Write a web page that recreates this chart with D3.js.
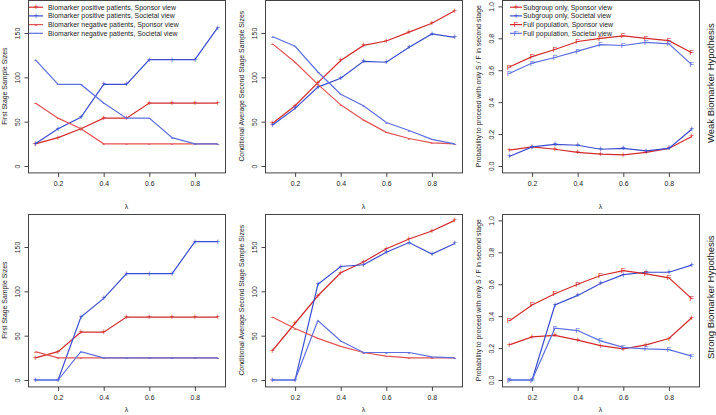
<!DOCTYPE html>
<html><head><meta charset="utf-8">
<script src="https://cdn.jsdelivr.net/npm/d3@7"></script>
<style>
body{margin:0;background:#fff;}
svg{display:block;font-family:"Liberation Sans",Arial,sans-serif;}
</style></head>
<body>
<svg id="c" width="716" height="415"></svg>
<script>
const lambda = [0.1,0.2,0.3,0.4,0.5,0.6,0.7,0.8,0.9];
const xTicks = [0.2,0.4,0.6,0.8];
const sizeTicks = [0,50,100,150];
const probTicks = [0,0.2,0.4,0.6,0.8,1.0];

// Weak biomarker hypothesis
const weakFirstPosSponsor  = [25,32,42,54,54,71,71,71,71];
const weakFirstPosSocietal = [25,42,55,92,92,120,120,120,156];
const weakFirstNegSponsor  = [71,54,42,25,25,25,25,25,25];
const weakFirstNegSocietal = [120,92,92,71,54,54,32,25,25];

const weakSecondPosSponsor  = [48,68,94,119,136,141,151,161,175];
const weakSecondPosSocietal = [46,65,89,99,118,117,134,149,145];
const weakSecondNegSponsor  = [138,117,92,69,52,38,31,26,25];
const weakSecondNegSocietal = [146,135,106,81,68,49,40,30,25];

const weakProbSubSponsor   = [0.10,0.12,0.105,0.085,0.075,0.07,0.085,0.11,0.185];
const weakProbSubSocietal  = [0.06,0.12,0.135,0.13,0.105,0.11,0.095,0.11,0.23];
const weakProbFullSponsor  = [0.62,0.685,0.73,0.78,0.80,0.815,0.80,0.785,0.71];
const weakProbFullSocietal = [0.58,0.645,0.68,0.72,0.76,0.755,0.775,0.765,0.635];

// Strong biomarker hypothesis
const strongFirstPosSponsor  = [25,32,54,54,71,71,71,71,71];
const strongFirstPosSocietal = [0,0,71,92,120,120,120,156,156];
const strongFirstNegSponsor  = [32,25,25,25,25,25,25,25,25];
const strongFirstNegSocietal = [0,0,32,25,25,25,25,25,25];

const strongSecondPosSponsor  = [33,64,95,121,133,148,159,168,180];
const strongSecondPosSocietal = [0,0,108,128,130,144,155,142,154];
const strongSecondNegSponsor  = [71,58,47,38,31,27,25,25,25];
const strongSecondNegSocietal = [0,0,67,44,31,31,31,26,25];

const strongProbSubSponsor   = [0.22,0.27,0.28,0.25,0.215,0.195,0.22,0.26,0.39];
const strongProbSubSocietal  = [0,0,0.47,0.53,0.605,0.66,0.675,0.675,0.72];
const strongProbFullSponsor  = [0.37,0.47,0.54,0.60,0.655,0.685,0.665,0.64,0.51];
const strongProbFullSocietal = [0,0,0.325,0.31,0.245,0.205,0.195,0.19,0.15];

const legend1Labels = ["Biomarker positive patients, Sponsor view","Biomarker positive patients, Societal view",
  "Biomarker negative patients, Sponsor view","Biomarker negative patients, Societal view"];
const legend3Labels = ["Subgroup only, Sponsor view","Subgroup only, Societal view",
  "Full population, Sponsor view","Full population, Societal view"];
const rowLabels = ["Weak Biomarker Hypothesis","Strong Biomarker Hypothesis"];
const yTitles = ["First Stage Sample Sizes","Conditional Average Second Stage Sample Sizes",
  "Probability to proceed with only S / F in second stage"];

const RED="#d22b2b", BLUE="#3a4ccf", RED2="#e25353", BLUE2="#5d6fe0";

const svg = d3.select("#c");
const colX=[28,265,502], W=197, rowY=[0,214], H=172.4;
const FS=6.9;

function panel(col,row,series,maxY,ticks,fmt,title,legend){
  const x0=colX[col], y0=rowY[row];
  const x=d3.scaleLinear().domain([0.1-0.032,0.9+0.032]).range([x0,x0+W]);
  const y=d3.scaleLinear().domain([-0.04*maxY,1.04*maxY]).range([y0+H,y0]);
  const g=svg.append("g");
  series.forEach(s=>{
    const line=d3.line().x((d,i)=>x(lambda[i])).y(d=>y(d));
    g.append("path").attr("d",line(s.values)).attr("fill","none")
      .attr("stroke",s.color).attr("stroke-width",1.2);
    g.selectAll(null).data(s.values).enter().append("text")
      .attr("x",(d,i)=>x(lambda[i])).attr("y",d=>y(d))
      .attr("text-anchor","middle").attr("dominant-baseline","central")
      .attr("font-size",s.sym==="F"?8:(s.sym==="-"?9:8.5)).attr("fill",s.color)
      .text(s.sym);
  });
  g.append("rect").attr("x",x0+0.5).attr("y",y0+0.5).attr("width",W).attr("height",H)
    .attr("fill","none").attr("stroke","#444").attr("stroke-width",1);
  const ax=g.append("g").attr("transform",`translate(0,${y0+H+0.5})`)
    .call(d3.axisBottom(x).tickValues(xTicks).tickSize(4).tickPadding(4).tickFormat(d3.format(".1f")));
  ax.select(".domain").remove();
  ax.selectAll("line").attr("stroke","#444");
  ax.selectAll("text").attr("font-size",FS).attr("fill","#222").attr("font-family","Liberation Sans, Arial, sans-serif");
  const ay=g.append("g").attr("transform",`translate(${x0+0.5},0)`)
    .call(d3.axisLeft(y).tickValues(ticks).tickSize(4).tickFormat(fmt));
  ay.select(".domain").remove();
  ay.selectAll("line").attr("stroke","#444");
  ay.selectAll("text").attr("font-size",FS).attr("fill","#222")
    .attr("font-family","Liberation Sans, Arial, sans-serif")
    .attr("text-anchor","middle").attr("dominant-baseline","central")
    .attr("x",0).attr("dy",null)
    .attr("transform","translate(-11,0) rotate(-90)");
  g.append("text").attr("x",x0+W/2).attr("y",Math.min(y0+H+34,409)).attr("text-anchor","middle")
    .attr("dominant-baseline","central").attr("font-size",7).attr("fill","#222").text("λ");
  g.append("text").attr("transform",`translate(${x0-24},${y0+H/2}) rotate(-90)`)
    .attr("text-anchor","middle").attr("dominant-baseline","central")
    .attr("font-size",FS).attr("fill","#222").text(title);
  if(legend){
    const lg=g.append("g");
    legend.labels.forEach((lab,i)=>{
      const yy=y0+7.2+i*8.7;
      const s=series[legend.order[i]];
      lg.append("line").attr("x1",x0+legend.lx).attr("x2",x0+legend.lx+legend.lw)
        .attr("y1",yy).attr("y2",yy).attr("stroke",s.color).attr("stroke-width",1.2);
      lg.append("text").attr("x",x0+legend.lx+legend.lw/2).attr("y",yy)
        .attr("text-anchor","middle").attr("dominant-baseline","central")
        .attr("font-size",s.sym==="F"?8:(s.sym==="-"?9:8.5)).attr("fill",s.color).text(s.sym);
      lg.append("text").attr("x",x0+legend.tx).attr("y",yy)
        .attr("dominant-baseline","central").attr("font-size",FS).attr("fill","#222").text(lab);
    });
  }
}

const sizeFmt=d3.format("d"), probFmt=d3.format(".1f");
function sizeSeries(ps,pc,ns,nc){
  return [{values:ps,color:RED,sym:"+"},{values:pc,color:BLUE,sym:"+"},
          {values:ns,color:RED2,sym:"-"},{values:nc,color:BLUE2,sym:"-"}];
}
function probSeries(ss,sc,fs,fc){
  return [{values:ss,color:RED,sym:"+"},{values:sc,color:BLUE,sym:"+"},
          {values:fs,color:RED,sym:"F"},{values:fc,color:BLUE2,sym:"F"}];
}
const leg1={labels:legend1Labels,order:[0,1,2,3],lx:1,lw:14,tx:20};
const leg3={labels:legend3Labels,order:[0,1,2,3],lx:8,lw:12,tx:21};

panel(0,0,sizeSeries(weakFirstPosSponsor,weakFirstPosSocietal,weakFirstNegSponsor,weakFirstNegSocietal),180,sizeTicks,sizeFmt,yTitles[0],leg1);
panel(1,0,sizeSeries(weakSecondPosSponsor,weakSecondPosSocietal,weakSecondNegSponsor,weakSecondNegSocietal),180,sizeTicks,sizeFmt,yTitles[1],null);
panel(2,0,probSeries(weakProbSubSponsor,weakProbSubSocietal,weakProbFullSponsor,weakProbFullSocietal),1,probTicks,probFmt,yTitles[2],leg3);
panel(0,1,sizeSeries(strongFirstPosSponsor,strongFirstPosSocietal,strongFirstNegSponsor,strongFirstNegSocietal),180,sizeTicks,sizeFmt,yTitles[0],null);
panel(1,1,sizeSeries(strongSecondPosSponsor,strongSecondPosSocietal,strongSecondNegSponsor,strongSecondNegSocietal),180,sizeTicks,sizeFmt,yTitles[1],null);
panel(2,1,probSeries(strongProbSubSponsor,strongProbSubSocietal,strongProbFullSponsor,strongProbFullSocietal),1,probTicks,probFmt,yTitles[2],null);

rowLabels.forEach((t,i)=>{
  svg.append("text").attr("transform",`translate(710,${rowY[i]+H/2-3}) rotate(-90)`)
    .attr("text-anchor","middle").attr("dominant-baseline","central")
    .attr("font-size",9.5).attr("fill","#111").text(t);
});
</script>
</body></html>
